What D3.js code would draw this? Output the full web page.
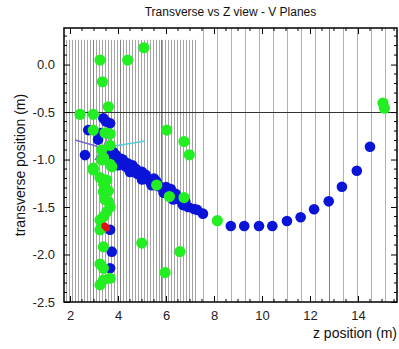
<!DOCTYPE html>
<html>
<head>
<meta charset="utf-8">
<script src="https://cdn.jsdelivr.net/npm/d3@7"></script>
<style>
  body { margin: 0; background: #fff; }
  text { font-family: "Liberation Sans", Arial, sans-serif; }
</style>
</head>
<body>
<div id="chart"></div>
<script>
// hits - z position (m), transverse position (m)
var blueZ = [3.55, 3.7, 3.8, 3.9, 4.0, 4.1, 4.2, 4.3, 4.45, 4.55, 4.7, 4.8, 4.95, 5.05, 5.2, 5.3, 5.45, 5.6, 5.7, 5.85,
  6.0, 6.1, 6.25, 6.4, 6.55, 6.71, 6.92, 7.17, 7.54,
  3.9, 4.2, 4.6, 5.0, 5.5, 6.2,
  3.8, 4.1, 4.4, 4.75, 5.15, 5.6, 6.0, 6.4, 6.8, 7.3,
  4.0, 4.5, 5.0, 5.4, 5.9, 6.3,
  8.7, 9.26, 9.875, 10.43, 11.04, 11.61, 12.17, 12.78, 13.33, 13.95, 14.5,
  3.39, 3.67, 3.5, 2.76, 3.17, 2.625, 3.3,
  3.46, 3.67, 3.74, 3.67];
var blueT = [-0.93, -0.96, -0.99, -1.0, -1.02, -1.03, -1.05, -1.07, -1.1, -1.11, -1.13, -1.15, -1.17, -1.18, -1.2, -1.22, -1.24, -1.27, -1.28, -1.3,
  -1.33, -1.34, -1.37, -1.4, -1.42, -1.48, -1.5, -1.52, -1.57,
  -0.95, -1.0, -1.06, -1.13, -1.2, -1.31,
  -0.92, -0.99, -1.04, -1.1, -1.16, -1.23, -1.29, -1.36, -1.44, -1.53,
  -1.06, -1.13, -1.21, -1.27, -1.35, -1.42,
  -1.7, -1.7, -1.7, -1.7, -1.647, -1.608, -1.524, -1.44, -1.286, -1.118, -0.865,
  -0.566, -0.619, -0.6, -0.69, -0.79, -0.953, -0.72,
  -1.3, -1.74, -1.97, -2.145];

var greenZ = [5.08, 3.25, 4.4, 3.35, 3.6, 2.42, 2.97,
  6.03, 6.75, 6.97, 2.97, 3.46, 3.67, 3.32, 2.97, 3.74, 3.53, 3.39, 3.6, 3.53, 3.25, 3.32,
  5.61, 6.14, 6.75, 4.99, 6.58, 3.39, 3.39, 5.96, 3.67, 3.39, 3.25,
  3.67, 3.32, 3.4, 3.67, 3.25, 3.4, 3.6, 3.46, 3.67, 3.4, 3.25, 2.97, 3.25,
  8.14, 15.04, 15.1];
var greenT = [0.177, 0.047, 0.047, -0.181, -0.444, -0.524, -0.524,
  -0.69, -0.81, -0.95, -0.69, -0.72, -0.85, -1.005, -1.09, -1.076, -1.216, -1.34, -1.444, -1.55, -1.637, -1.724,
  -1.268, -1.39, -1.4, -1.88, -1.97, -1.92, -2.145, -2.19, -2.25, -2.27, -2.32,
  -0.73, -0.9, -0.98, -1.05, -1.19, -1.26, -1.33, -1.42, -1.5, -1.6, -1.74, -1.11, -2.1,
  -1.644, -0.405, -0.46];

var redZ = [3.45, 3.53];
var redT = [-1.7, -1.72];

// short reconstructed segments from the vertex
var segments = [
  { z1: 3.375, t1: -0.879, z2: 2.21, t2: -0.795, color: "#7766cc" },
  { z1: 3.375, t1: -0.879, z2: 5.125, t2: -0.805, color: "#55ccdd" },
  { z1: 3.375, t1: -0.879, z2: 3.79, t2: -0.616, color: "#cc55cc" },
  { z1: 3.375, t1: -0.879, z2: 3.04, t2: -1.005, color: "#8866cc" },
  { z1: 3.375, t1: -0.879, z2: 3.875, t2: -0.74, color: "#88aa88" }
];

// wire planes
var denseStart = 1.85, denseStep = 0.125, denseEnd = 7.25;
var sparseStart = 7.54, sparseStep = 0.583, sparseEnd = 15.5;
var darkPlanes = [2.95, 4.08, 5.8, 12.8];
var denseTop = 0.26;
var hLine = -0.5;

var xTicks = [2, 4, 6, 8, 10, 12, 14];
var yTicks = [0.0, -0.5, -1.0, -1.5, -2.0, -2.5];

var svgWidth = 399, svgHeight = 349;
var margin = { top: 28, right: 2, bottom: 47, left: 64 };
var width = svgWidth - margin.left - margin.right;
var height = svgHeight - margin.top - margin.bottom;

var svg = d3.select("#chart").append("svg")
  .attr("width", svgWidth)
  .attr("height", svgHeight);

var chartGroup = svg.append("g")
  .attr("transform", `translate(${margin.left}, ${margin.top})`);

var x = d3.scaleLinear().domain([1.75, 15.625]).range([0, width]);
var y = d3.scaleLinear().domain([-2.5, 0.385]).range([height, 0]);

// planes
var densePlanes = d3.range(denseStart, denseEnd, denseStep);
chartGroup.selectAll(".dense").data(densePlanes).enter().append("line")
  .attr("x1", d => Math.round(x(d)) + 0.5).attr("x2", d => Math.round(x(d)) + 0.5)
  .attr("y1", y(denseTop)).attr("y2", height)
  .attr("stroke", "#a4a4a4").attr("stroke-width", 1);

var sparsePlanes = d3.range(sparseStart, sparseEnd, sparseStep);
chartGroup.selectAll(".sparse").data(sparsePlanes).enter().append("line")
  .attr("x1", d => Math.round(x(d)) + 0.5).attr("x2", d => Math.round(x(d)) + 0.5)
  .attr("y1", 0).attr("y2", height)
  .attr("stroke", "#b0b0b0").attr("stroke-width", 1);

chartGroup.selectAll(".darkp").data(darkPlanes).enter().append("line")
  .attr("x1", d => Math.round(x(d)) + 0.5).attr("x2", d => Math.round(x(d)) + 0.5)
  .attr("y1", d => d < 7.3 ? y(denseTop) : 0).attr("y2", height)
  .attr("stroke", "#808080").attr("stroke-width", 1);

chartGroup.append("line")
  .attr("x1", 0).attr("x2", width)
  .attr("y1", Math.round(y(hLine)) + 0.5).attr("y2", Math.round(y(hLine)) + 0.5)
  .attr("stroke", "#333").attr("stroke-width", 1);

// segments
chartGroup.selectAll(".seg").data(segments).enter().append("line")
  .attr("x1", d => x(d.z1)).attr("y1", d => y(d.t1))
  .attr("x2", d => x(d.z2)).attr("y2", d => y(d.t2))
  .attr("stroke", d => d.color).attr("stroke-width", 1.5);

// hits
function drawHits(zs, ts, color, r) {
  chartGroup.append("g").selectAll("circle")
    .data(zs.map((z, i) => [z, ts[i]]))
    .enter()
    .append("circle")
    .attr("cx", d => x(d[0]))
    .attr("cy", d => y(d[1]))
    .attr("r", r)
    .attr("fill", color);
}
drawHits(blueZ, blueT, "#0a14d8", 5.3);
drawHits(greenZ, greenT, "#22ee22", 5.6);
drawHits(redZ, redT, "#e01010", 3.5);

// axes with inward ticks
var bottomAxis = d3.axisBottom(x).tickValues(xTicks).tickSize(-6).tickPadding(9).tickFormat(d3.format("d"));
var leftAxis = d3.axisLeft(y).tickValues(yTicks).tickSize(-6).tickPadding(9).tickFormat(d3.format(".1f"));

var xg = chartGroup.append("g").attr("transform", `translate(0, ${height})`).call(bottomAxis);
var yg = chartGroup.append("g").call(leftAxis);
[xg, yg].forEach(function (g) {
  g.select(".domain").remove();
  g.selectAll("line").attr("stroke", "#000");
  g.selectAll("text").attr("font-size", "13px").attr("fill", "#222")
    .attr("font-family", "Liberation Sans, Arial, sans-serif");
});
yg.selectAll("text").text(d => d3.format(".1f")(d).replace("\u2212", "-"));

chartGroup.append("g").call(d3.axisTop(x).tickValues(xTicks).tickSize(-6).tickFormat(""))
  .call(g => g.select(".domain").remove());
chartGroup.append("g").attr("transform", `translate(${width}, 0)`)
  .call(d3.axisRight(y).tickValues(yTicks).tickSize(-6).tickFormat(""))
  .call(g => g.select(".domain").remove());

// minor ticks
var minorX = d3.range(2, 15.6, 0.5).filter(v => v % 2 !== 0);
var minorY = d3.range(-25, 4).map(v => v / 10).filter(v => Math.abs(v * 2 - Math.round(v * 2)) > 1e-6);
chartGroup.append("g").selectAll("line").data(minorX).enter().append("line")
  .attr("x1", d => x(d)).attr("x2", d => x(d)).attr("y1", height).attr("y2", height - 3).attr("stroke", "#000");
chartGroup.append("g").selectAll("line").data(minorX).enter().append("line")
  .attr("x1", d => x(d)).attr("x2", d => x(d)).attr("y1", 0).attr("y2", 3).attr("stroke", "#000");
chartGroup.append("g").selectAll("line").data(minorY).enter().append("line")
  .attr("x1", 0).attr("x2", 3).attr("y1", d => y(d)).attr("y2", d => y(d)).attr("stroke", "#000");
chartGroup.append("g").selectAll("line").data(minorY).enter().append("line")
  .attr("x1", width).attr("x2", width - 3).attr("y1", d => y(d)).attr("y2", d => y(d)).attr("stroke", "#000");

// frame
chartGroup.append("rect")
  .attr("x", 0).attr("y", 0).attr("width", width).attr("height", height)
  .attr("fill", "none").attr("stroke", "#000").attr("stroke-width", 1.5);

// labels
svg.append("text")
  .attr("x", margin.left + width / 2).attr("y", 16)
  .attr("text-anchor", "middle").attr("font-size", "12px").attr("fill", "#111")
  .text("Transverse vs Z view - V Planes");

svg.append("text")
  .attr("x", svgWidth - 2).attr("y", 338)
  .attr("text-anchor", "end").attr("font-size", "14px").attr("fill", "#111")
  .text("z position (m)");

svg.append("text")
  .attr("transform", `translate(25, ${margin.top + height / 2}) rotate(-90)`)
  .attr("text-anchor", "middle").attr("font-size", "14px").attr("fill", "#111")
  .text("transverse position (m)");
</script>
</body>
</html>
